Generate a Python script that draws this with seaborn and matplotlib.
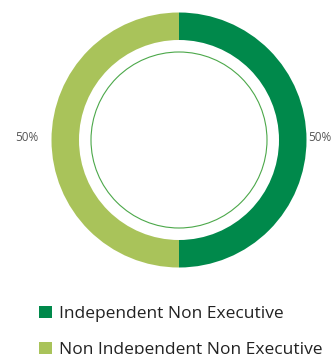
import matplotlib
matplotlib.use("Agg")
import matplotlib.pyplot as plt
from matplotlib.patches import Patch, Circle
import seaborn as sns

categories = ["Independent Non Executive", "Non Independent Non Executive"]
shares = [50, 50]
colors = ["#00894B", "#A9C35A"]

sns.set_theme(style="white")
plt.rcParams["font.family"] = ["Open Sans", "DejaVu Sans"]

W, H = 333, 354
fig = plt.figure(figsize=(W / 100, H / 100), dpi=100)

# square axes placed so that radius 1 maps to ~127 px around the ring centre
cx, cy, R = 179, 140, 127.5
L = 1.3
side = 2 * L * R
ax = fig.add_axes([(cx - side / 2) / W, (H - cy - side / 2) / H, side / W, side / H])

wedges, _ = ax.pie(
    shares,
    colors=colors,
    startangle=90,
    counterclock=False,
    radius=1.0,
    wedgeprops=dict(width=1.0 - 100 / R, linewidth=0),
)
ax.set_xlim(-L, L)
ax.set_ylim(-L, L)
ax.set_aspect("equal")
ax.axis("off")

# thin inner ring
ax.add_patch(Circle((0, 0), 88 / R, fill=False, edgecolor="#4CA84A", linewidth=0.8))

# percentage labels beside each half
ax.text((308 - cx) / R, 0.02, f"{shares[0]}%", ha="left", va="center",
        fontsize=8.5, color="#555555")
ax.text(-(cx - 38) / R, 0.02, f"{shares[1]}%", ha="right", va="center",
        fontsize=8.5, color="#555555")

handles = [Patch(facecolor=c, edgecolor="none") for c in colors]
fig.legend(
    handles, categories,
    loc="upper left",
    bbox_to_anchor=(23 / W, 1 - 290 / H),
    frameon=False,
    fontsize=12.5,
    handlelength=0.75,
    handleheight=0.75,
    handletextpad=0.4,
    labelspacing=1.15,
    labelcolor="#222222",
)

fig.savefig("out.png", dpi=100)
